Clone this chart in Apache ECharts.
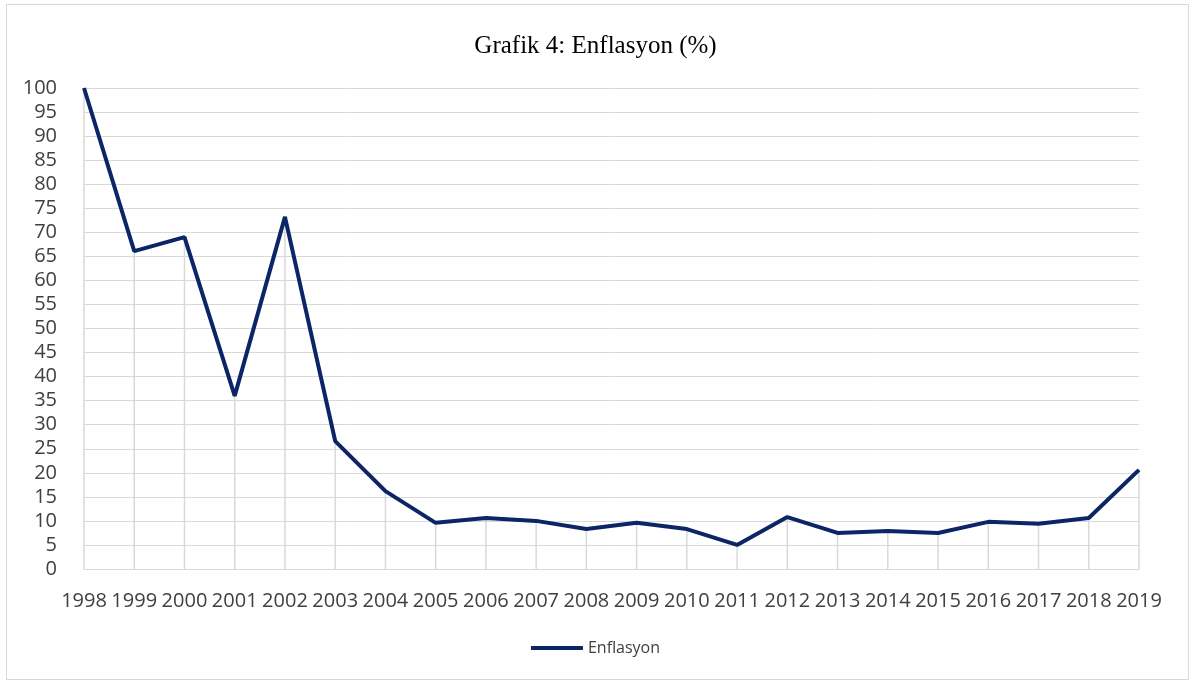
<!DOCTYPE html>
<html>
<head>
<meta charset="utf-8">
<script src="https://cdn.jsdelivr.net/npm/echarts@6/dist/echarts.min.js"></script>
<style>
  html, body { margin: 0; padding: 0; background: #fff; }
  #frame { position: absolute; left: 6px; top: 4px; width: 1183px; height: 676px; border: 1px solid #d9d9d9; box-sizing: border-box; }
  #main { position: absolute; left: 0; top: 0; width: 1191px; height: 682px; }
</style>
</head>
<body>
<div id="frame"></div>
<div id="main"></div>
<script>
// yillar ve enflasyon degerleri (%)
var years = ['1998', '1999', '2000', '2001', '2002', '2003', '2004', '2005', '2006', '2007', '2008',
  '2009', '2010', '2011', '2012', '2013', '2014', '2015', '2016', '2017', '2018', '2019'];
var enflasyon = [100, 66.1, 69.0, 36.0, 73.2, 26.6, 16.2, 9.6, 10.6, 10.0, 8.3,
  9.6, 8.3, 5.0, 10.8, 7.5, 7.9, 7.5, 9.8, 9.4, 10.6, 20.6];
var yTicks = { min: 0, max: 100, step: 5 };

var dom = document.getElementById('main');
var myChart = echarts.init(dom);

var option = {
  animation: false,
  title: {
    text: 'Grafik 4: Enflasyon (%)',
    left: 'center',
    top: 29,
    textStyle: { fontFamily: 'Liberation Serif', fontSize: 25, fontWeight: 'normal', color: '#000' }
  },
  legend: {
    data: ['Enflasyon'],
    bottom: 21,
    left: 'center',
    itemWidth: 52,
    itemHeight: 4,
    itemGap: 6,
    icon: 'rect',
    textStyle: { fontFamily: 'Open Sans', fontSize: 16, color: '#404040' }
  },
  grid: { left: 84, right: 52, top: 88, bottom: 113 },
  xAxis: {
    type: 'category',
    data: years,
    boundaryGap: false,
    axisLine: { lineStyle: { color: '#d9d9d9', width: 1 } },
    axisTick: { show: false },
    axisLabel: { margin: 22, fontFamily: 'Open Sans', fontSize: 20, color: '#404040', interval: 0 }
  },
  yAxis: {
    type: 'value',
    min: yTicks.min,
    max: yTicks.max,
    interval: yTicks.step,
    axisLine: { show: false },
    axisTick: { show: false },
    splitLine: { lineStyle: { color: '#d9d9d9', width: 1 } },
    axisLabel: { margin: 27, fontFamily: 'Open Sans', fontSize: 20, color: '#404040' }
  },
  series: [
    {
      // Excel'deki dusey cizgiler
      name: 'drop',
      type: 'bar',
      data: enflasyon,
      barWidth: 1.5,
      silent: true,
      itemStyle: { color: '#d9d9d9' },
      z: 1
    },
    {
      name: 'Enflasyon',
      type: 'line',
      data: enflasyon,
      symbol: 'none',
      lineStyle: { color: '#0c2566', width: 4 },
      itemStyle: { color: '#0c2566' },
      z: 3
    }
  ]
};
myChart.setOption(option);
</script>
</body>
</html>
